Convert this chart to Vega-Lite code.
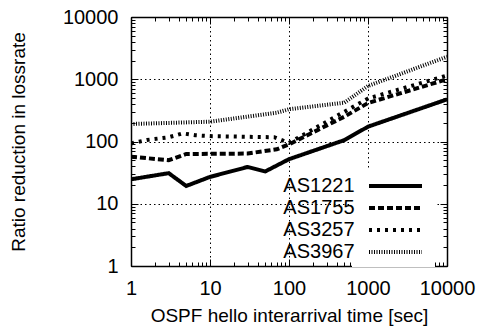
{
  "$schema": "https://vega.github.io/schema/vega-lite/v6.json",
  "width": 316,
  "height": 249,
  "autosize": {"type": "none"},
  "padding": {"left": 131, "top": 17, "right": 34, "bottom": 70},
  "background": "white",
  "config": {
    "view": {"stroke": null},
    "font": "Liberation Sans",
    "axis": {"labelFont": "Liberation Sans", "titleFont": "Liberation Sans", "labelColor": "black", "titleColor": "black", "domainColor": "black", "tickColor": "black", "titleFontWeight": "normal"}
  },
  "data": {"values": [
    {"t": 1, "r": 24.7, "as": "AS1221"},
    {"t": 3, "r": 31, "as": "AS1221"},
    {"t": 5, "r": 19.3, "as": "AS1221"},
    {"t": 10, "r": 27, "as": "AS1221"},
    {"t": 30, "r": 39, "as": "AS1221"},
    {"t": 50, "r": 33, "as": "AS1221"},
    {"t": 100, "r": 52, "as": "AS1221"},
    {"t": 500, "r": 105, "as": "AS1221"},
    {"t": 1000, "r": 173, "as": "AS1221"},
    {"t": 10000, "r": 475, "as": "AS1221"},
    {"t": 1, "r": 57, "as": "AS1755"},
    {"t": 3, "r": 50, "as": "AS1755"},
    {"t": 5, "r": 63, "as": "AS1755"},
    {"t": 30, "r": 64, "as": "AS1755"},
    {"t": 70, "r": 75, "as": "AS1755"},
    {"t": 100, "r": 90, "as": "AS1755"},
    {"t": 500, "r": 250, "as": "AS1755"},
    {"t": 1000, "r": 415, "as": "AS1755"},
    {"t": 10000, "r": 1000, "as": "AS1755"},
    {"t": 1, "r": 93, "as": "AS3257"},
    {"t": 1.6, "r": 106, "as": "AS3257"},
    {"t": 3, "r": 117, "as": "AS3257"},
    {"t": 4.5, "r": 135, "as": "AS3257"},
    {"t": 6.5, "r": 126, "as": "AS3257"},
    {"t": 10, "r": 122, "as": "AS3257"},
    {"t": 65, "r": 117, "as": "AS3257"},
    {"t": 100, "r": 95, "as": "AS3257"},
    {"t": 500, "r": 300, "as": "AS3257"},
    {"t": 1000, "r": 490, "as": "AS3257"},
    {"t": 10000, "r": 1150, "as": "AS3257"},
    {"t": 1, "r": 191, "as": "AS3967"},
    {"t": 10, "r": 208, "as": "AS3967"},
    {"t": 70, "r": 290, "as": "AS3967"},
    {"t": 100, "r": 330, "as": "AS3967"},
    {"t": 500, "r": 420, "as": "AS3967"},
    {"t": 1000, "r": 780, "as": "AS3967"},
    {"t": 10000, "r": 2300, "as": "AS3967"}
  ]},
  "resolve": {"axis": {"x": "independent", "y": "independent"}},
  "layer": [
    {
      "mark": {"type": "line", "color": "black", "strokeWidth": 4, "clip": true},
      "encoding": {
        "x": {"field": "t", "type": "quantitative",
          "scale": {"type": "log", "domain": [1, 10000], "nice": false},
          "axis": {"orient": "bottom", "values": [1, 10, 100, 1000, 10000], "format": "d", "labelFontSize": 20, "labelPadding": 19, "tickSize": -7, "grid": true, "gridColor": "black", "gridDash": [1.5, 3], "gridOpacity": 1, "domainWidth": 1.5, "title": "OSPF hello interarrival time [sec]", "titleFontSize": 19, "titlePadding": 8, "labelFlush": false}},
        "y": {"field": "r", "type": "quantitative",
          "scale": {"type": "log", "domain": [1, 10000], "nice": false},
          "axis": {"orient": "left", "values": [1, 10, 100, 1000, 10000], "format": "d", "labelFontSize": 20, "labelPadding": 20, "tickSize": -7, "grid": true, "gridColor": "black", "gridDash": [1.5, 3], "gridOpacity": 1, "domainWidth": 1.5, "title": "Ratio reduction in lossrate", "titleFontSize": 19, "titlePadding": 34}},
        "strokeDash": {"field": "as", "type": "nominal",
          "scale": {"domain": ["AS1221", "AS1755", "AS3257", "AS3967"], "range": [[1, 0], [6, 3], [3, 5], [1, 1.5]]},
          "legend": {"title": null, "orient": "none", "legendX": 221, "legendY": 152, "symbolType": "M-2.65,0H2.65", "symbolSize": 400, "symbolStrokeWidth": 4, "symbolStrokeColor": "black", "symbolFillColor": "transparent", "symbolOffset": 26.5, "labelFontSize": 20, "labelAlign": "right", "labelOffset": -53, "labelColor": "black", "rowPadding": -1, "padding": 5, "fillColor": "white", "labelLimit": 200}}
      }
    },
    {
      "mark": {"type": "point", "opacity": 0},
      "encoding": {
        "x": {"field": "t", "type": "quantitative", "scale": {"type": "log", "domain": [1, 10000], "nice": false},
          "axis": {"orient": "bottom", "values": [2,3,4,5,6,7,8,9,20,30,40,50,60,70,80,90,200,300,400,500,600,700,800,900,2000,3000,4000,5000,6000,7000,8000,9000], "labels": false, "domain": false, "grid": false, "tickSize": -4, "title": null}},
        "y": {"field": "r", "type": "quantitative", "scale": {"type": "log", "domain": [1, 10000], "nice": false},
          "axis": {"orient": "left", "values": [2,3,4,5,6,7,8,9,20,30,40,50,60,70,80,90,200,300,400,500,600,700,800,900,2000,3000,4000,5000,6000,7000,8000,9000], "labels": false, "domain": false, "grid": false, "tickSize": -4, "title": null}}
      }
    },
    {
      "mark": {"type": "point", "opacity": 0},
      "encoding": {
        "x": {"field": "t", "type": "quantitative", "scale": {"type": "log", "domain": [1, 10000], "nice": false},
          "axis": {"orient": "top", "values": [1, 10, 100, 1000, 10000], "labels": false, "domainWidth": 1.5, "grid": false, "tickSize": -7, "title": null}},
        "y": {"field": "r", "type": "quantitative", "scale": {"type": "log", "domain": [1, 10000], "nice": false},
          "axis": {"orient": "right", "values": [1, 10, 100, 1000, 10000], "labels": false, "domainWidth": 1.5, "grid": false, "tickSize": -7, "title": null}}
      }
    },
    {
      "mark": {"type": "point", "opacity": 0},
      "encoding": {
        "x": {"field": "t", "type": "quantitative", "scale": {"type": "log", "domain": [1, 10000], "nice": false},
          "axis": {"orient": "top", "values": [2,3,4,5,6,7,8,9,20,30,40,50,60,70,80,90,200,300,400,500,600,700,800,900,2000,3000,4000,5000,6000,7000,8000,9000], "labels": false, "domain": false, "grid": false, "tickSize": -4, "title": null}},
        "y": {"field": "r", "type": "quantitative", "scale": {"type": "log", "domain": [1, 10000], "nice": false},
          "axis": {"orient": "right", "values": [2,3,4,5,6,7,8,9,20,30,40,50,60,70,80,90,200,300,400,500,600,700,800,900,2000,3000,4000,5000,6000,7000,8000,9000], "labels": false, "domain": false, "grid": false, "tickSize": -4, "title": null}}
      }
    }
  ]
}
